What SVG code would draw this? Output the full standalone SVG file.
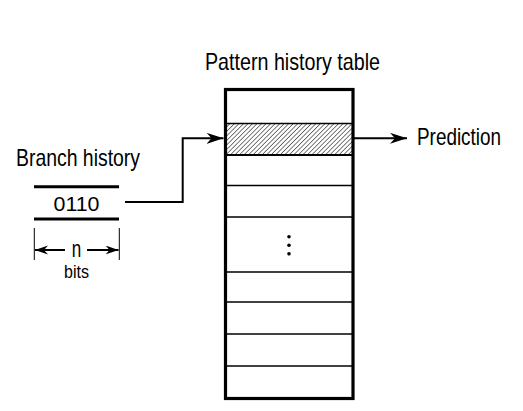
<svg xmlns="http://www.w3.org/2000/svg" width="523" height="411" viewBox="0 0 523 411">
<style>
.t{font-family:"Liberation Sans",Arial,sans-serif;fill:#000}
.row{stroke:#000;stroke-width:1.5;fill:none}
.ln{stroke:#000;stroke-width:2;fill:none}
</style>
<defs>
<pattern id="hatch" patternUnits="userSpaceOnUse" width="3.2" height="3.2" patternTransform="rotate(45)">
<rect width="3.2" height="3.2" fill="#fff"/>
<line x1="0" y1="0" x2="0" y2="3.2" stroke="#333" stroke-width="1.3"/>
</pattern>
<marker id="ah" markerWidth="18" markerHeight="12" refX="17" refY="5.5" orient="auto" markerUnits="userSpaceOnUse">
<path d="M0,0 L17,5.5 L0,11 L5,5.5 Z" fill="#000"/>
</marker>
<marker id="ahs" markerWidth="14" markerHeight="10" refX="13" refY="4.5" orient="auto" markerUnits="userSpaceOnUse">
<path d="M0,0 L13,4.5 L0,9 L4,4.5 Z" fill="#000"/>
</marker>
</defs>
<rect width="523" height="411" fill="#fff"/>
<g id="pht">
<text class="t" x="292.5" y="70" font-size="24" text-anchor="middle" textLength="175" lengthAdjust="spacingAndGlyphs">Pattern history table</text>
<rect x="226" y="123.5" width="126" height="31.5" fill="url(#hatch)"/>
<line class="row" x1="226" y1="123.5" x2="352" y2="123.5"/>
<line class="ln" x1="226" y1="155" x2="352" y2="155"/>
<line class="row" x1="226" y1="185.5" x2="352" y2="185.5"/>
<line class="row" x1="226" y1="217" x2="352" y2="217"/>
<line class="row" x1="226" y1="272" x2="352" y2="272"/>
<line class="row" x1="226" y1="302" x2="352" y2="302"/>
<line class="row" x1="226" y1="334" x2="352" y2="334"/>
<line class="row" x1="226" y1="366" x2="352" y2="366"/>
<circle cx="289" cy="236.7" r="1.8"/>
<circle cx="289" cy="245.3" r="1.8"/>
<circle cx="289" cy="253.7" r="1.8"/>
<rect x="225.5" y="89.5" width="127.5" height="309" fill="none" stroke="#000" stroke-width="3.2"/>
</g>
<g id="branch">
<text class="t" x="16" y="166" font-size="24" textLength="124" lengthAdjust="spacingAndGlyphs">Branch history</text>
<line x1="34" y1="186.7" x2="119" y2="186.7" stroke="#000" stroke-width="3"/>
<text class="t" x="76.5" y="211" font-size="21" text-anchor="middle" textLength="46" lengthAdjust="spacingAndGlyphs">0110</text>
<line x1="34" y1="219" x2="119" y2="219" stroke="#000" stroke-width="3"/>
<line x1="34.3" y1="228" x2="34.3" y2="260" stroke="#000" stroke-width="1"/>
<line x1="119.3" y1="228" x2="119.3" y2="260" stroke="#000" stroke-width="1"/>
<line x1="65" y1="250" x2="35" y2="250" class="ln" marker-end="url(#ahs)"/>
<line x1="87" y1="250" x2="118.5" y2="250" class="ln" marker-end="url(#ahs)"/>
<text class="t" x="76.5" y="256.7" font-size="24" text-anchor="middle" textLength="9.5" lengthAdjust="spacingAndGlyphs">n</text>
<text class="t" x="76.5" y="278.3" font-size="18" text-anchor="middle" textLength="25" lengthAdjust="spacingAndGlyphs">bits</text>
</g>
<g id="prediction">
<text class="t" x="417" y="145" font-size="24" textLength="84" lengthAdjust="spacingAndGlyphs">Prediction</text>
</g>
<g id="connectors">
<polyline class="ln" points="125,202 182.7,202 182.7,138.3 223.5,138.3" marker-end="url(#ah)"/>
<line class="ln" x1="354" y1="138.3" x2="407" y2="138.3" marker-end="url(#ah)"/>
</g>
</svg>
